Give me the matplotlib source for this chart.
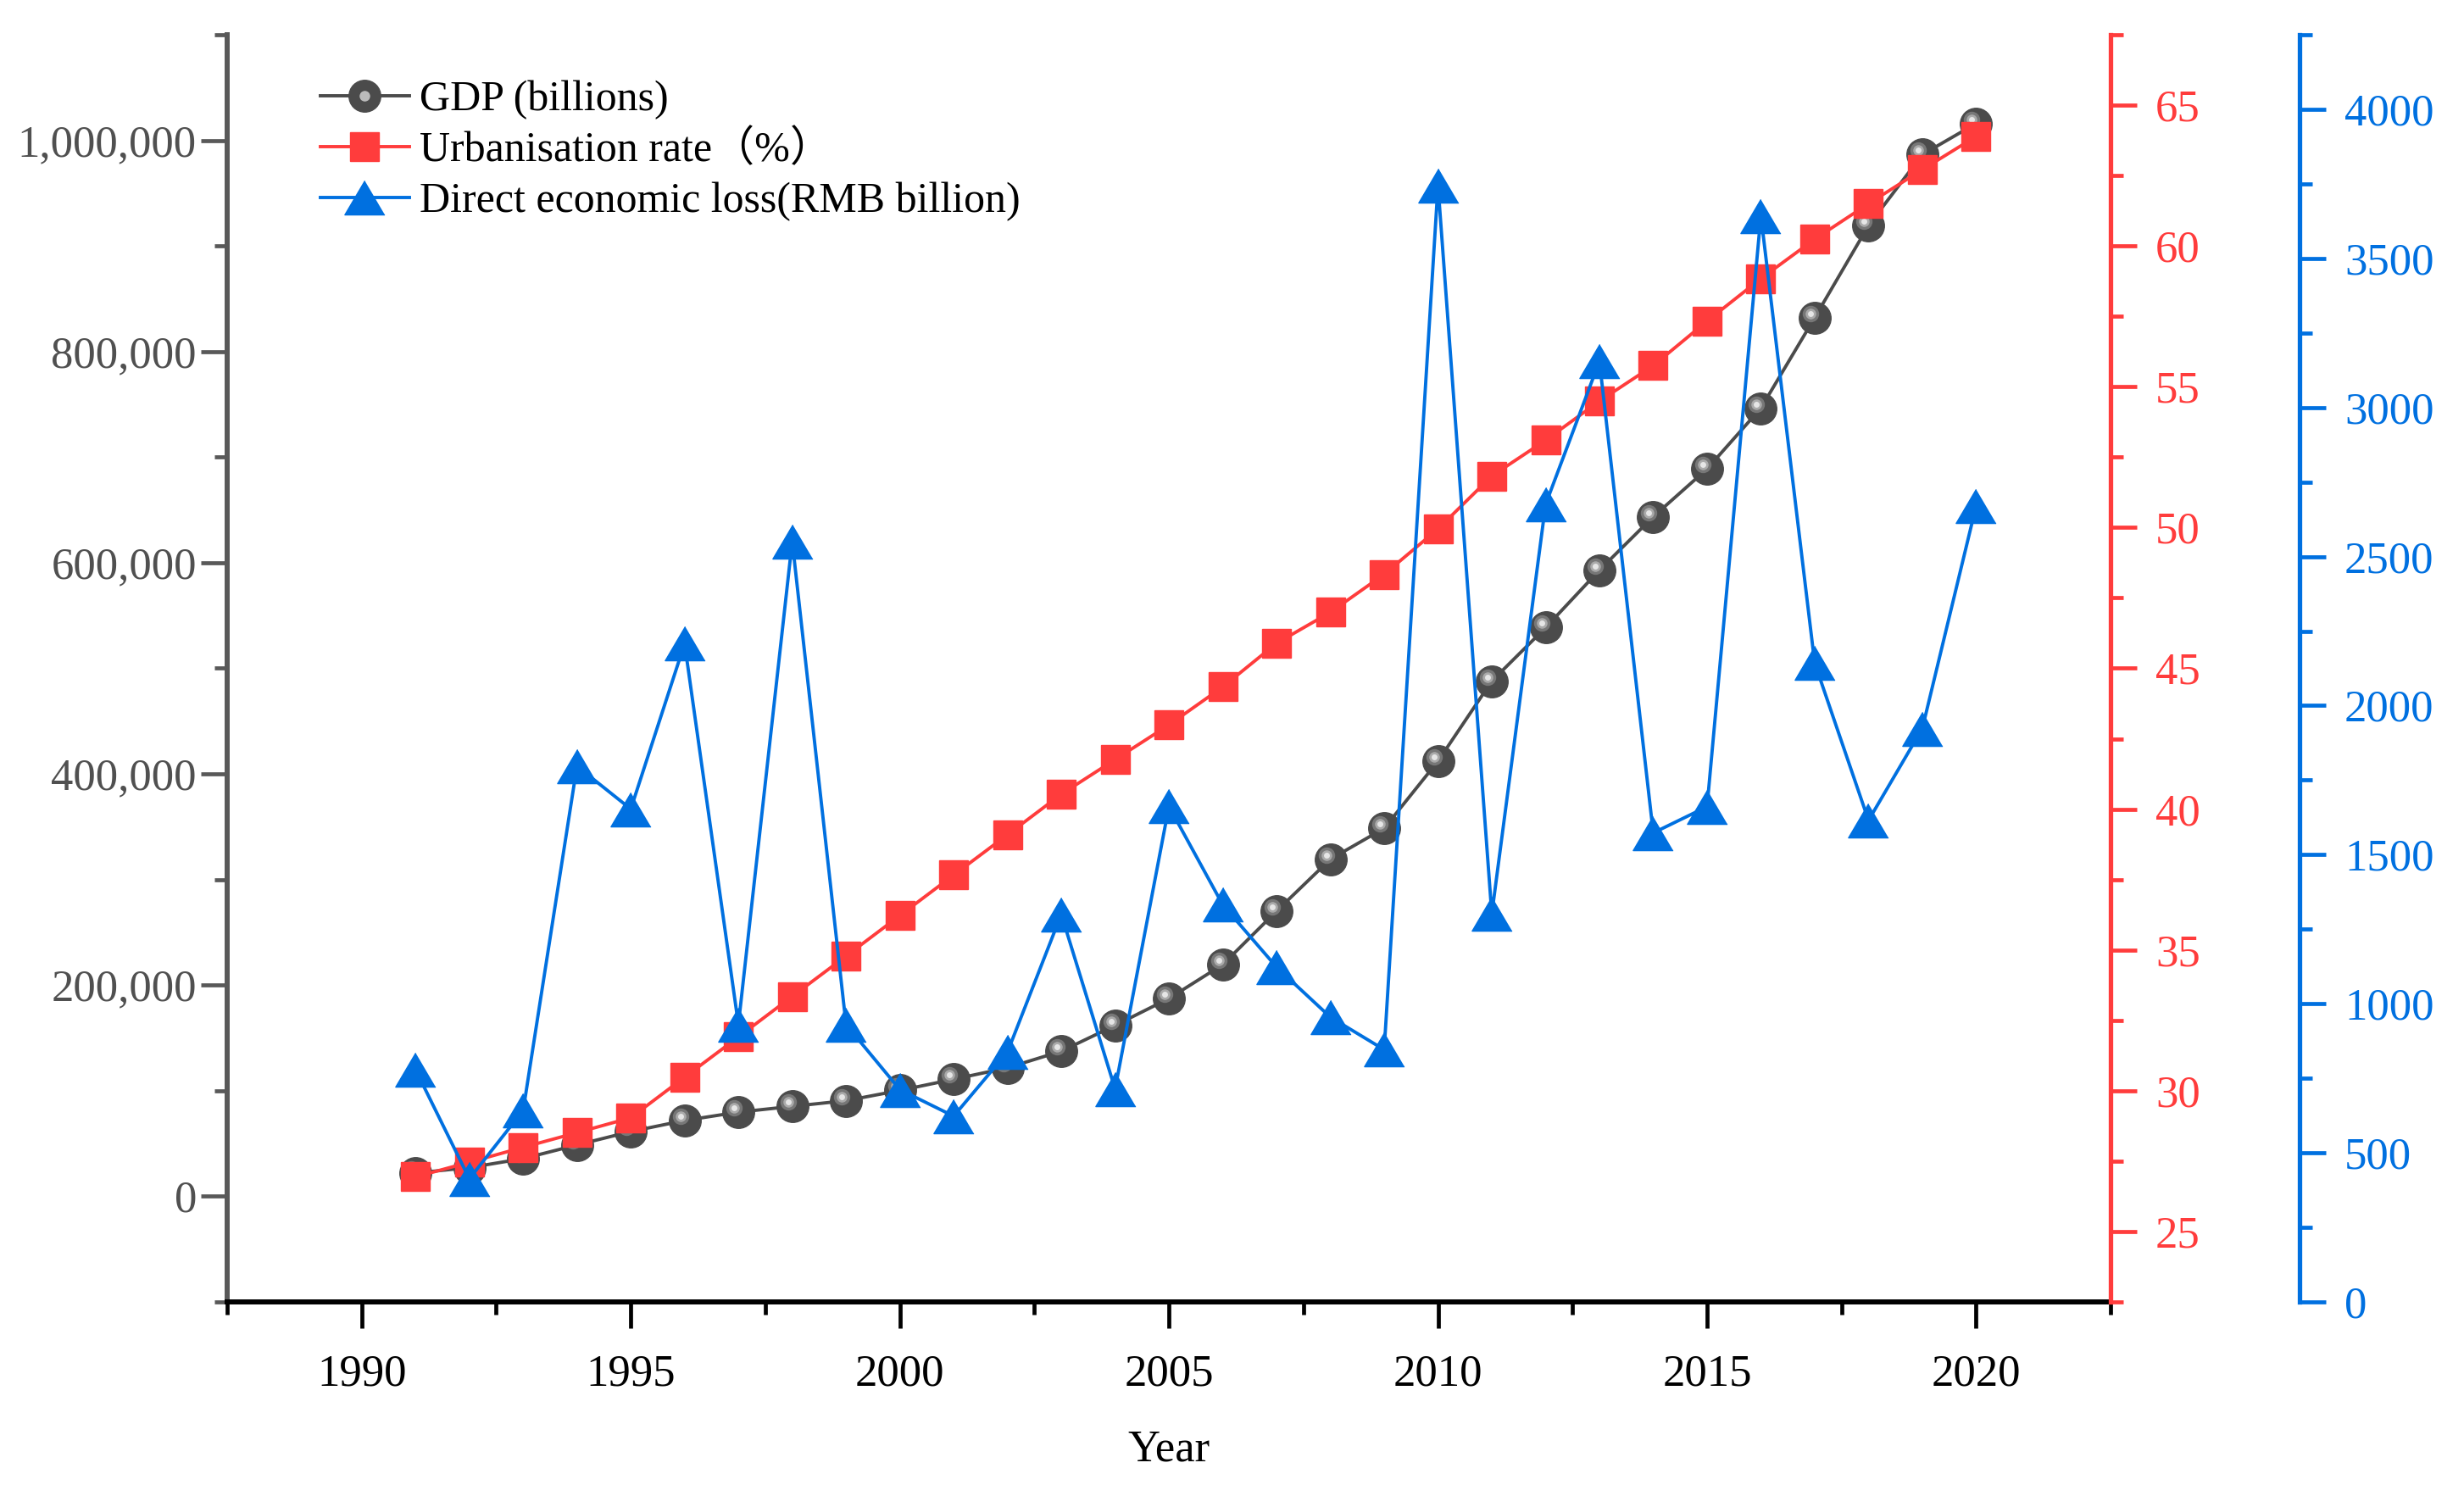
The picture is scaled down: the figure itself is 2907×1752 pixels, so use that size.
#encoding: utf-8

import matplotlib

matplotlib.use('Agg')
import matplotlib.pyplot as plt
import matplotlib.transforms as mtransforms
from matplotlib.ticker import MultipleLocator, FuncFormatter
from matplotlib.lines import Line2D

plt.rcParams['font.family'] = ['Liberation Serif', 'Noto Sans CJK SC']
plt.rcParams['font.size'] = 38

# data
years = list(range(1991, 2021))
gdp = [22006, 27195, 35673, 48638, 61340, 71814, 79715, 85196, 90564, 100280,
       110863, 121717, 137422, 161840, 187319, 219439, 270092, 319245, 348518, 412119,
       487940, 538580, 592963, 643563, 688858, 746395, 832036, 919281, 986515, 1015986]
urban = [26.94, 27.46, 27.99, 28.51, 29.04, 30.48, 31.91, 33.35, 34.78, 36.22,
         37.66, 39.09, 40.53, 41.76, 42.99, 44.34, 45.89, 46.99, 48.34, 49.95,
         51.83, 53.10, 54.49, 55.75, 57.33, 58.84, 60.24, 61.50, 62.71, 63.89]
loss = [779, 413, 642, 1797, 1653, 2208, 930, 2551, 930, 712,
        623, 838, 1300, 714, 1662, 1332, 1123, 955, 846, 3745,
        1301, 2675, 3155, 1573, 1661, 3643, 2143, 1615, 1923, 2670]

GRAY = '#4b4b4b'
RED = '#ff3c3c'
BLUE = '#0070e0'

fig = plt.figure(figsize=(29.07, 17.52), dpi=100, facecolor='w')
ax1 = fig.add_axes([0.0922, 0.1233, 0.8566 - 0.0922, 0.9766 - 0.1233])
ax2 = ax1.twinx()
ax3 = ax1.twinx()

# GDP - dark balls with a small highlight
ax1.plot(years, gdp, color=GRAY, lw=2.8, marker='o', ms=27, mfc=GRAY, mec=GRAY)
shift = ax1.transData + mtransforms.ScaledTranslation(-0.05, 0.05, fig.dpi_scale_trans)
for ms, c in [(14, '#777777'), (9, '#aaaaaa'), (5, '#e6e6e6')]:
    ax1.plot(years, gdp, ls='none', marker='o', ms=ms, mfc=c, mec='none', transform=shift)

line2, = ax2.plot(years, urban, color=RED, lw=2.8, marker='s', ms=25, mfc=RED, mec=RED)
tri = [(0, 0.85), (-1, -0.85), (1, -0.85)]
line3, = ax3.plot(years, loss, color=BLUE, lw=2.8, marker=tri, ms=34, mfc=BLUE, mec=BLUE)

ax1.set_xlim(1987.5, 2022.5)
ax1.set_ylim(-100000, 1100000)
ax2.set_ylim(22.5, 67.5)
ax3.set_ylim(0, 4250)

ax1.xaxis.set_major_locator(MultipleLocator(5))
ax1.xaxis.set_minor_locator(MultipleLocator(2.5))
ax1.yaxis.set_major_locator(MultipleLocator(200000))
ax1.yaxis.set_minor_locator(MultipleLocator(100000))
ax1.yaxis.set_major_formatter(FuncFormatter(lambda v, p: f'{int(v):,}'))
ax2.yaxis.set_major_locator(MultipleLocator(5))
ax2.yaxis.set_minor_locator(MultipleLocator(2.5))
ax3.yaxis.set_major_locator(MultipleLocator(500))
ax3.yaxis.set_minor_locator(MultipleLocator(250))

for ax in (ax1, ax2, ax3):
    ax.spines['top'].set_visible(False)
ax1.spines['right'].set_visible(False)
ax2.spines['left'].set_visible(False)
ax3.spines['left'].set_visible(False)
ax2.spines['bottom'].set_visible(False)
ax3.spines['bottom'].set_visible(False)

ax1.spines['left'].set_color('#595959')
ax1.spines['left'].set_linewidth(4.3)
ax1.spines['bottom'].set_color('black')
ax1.spines['bottom'].set_linewidth(4.3)
ax2.spines['right'].set_color(RED)
ax2.spines['right'].set_linewidth(3.8)
ax3.spines['right'].set_position(('axes', 1.1004))
ax3.spines['right'].set_color(BLUE)
ax3.spines['right'].set_linewidth(3.8)

ax1.tick_params(axis='x', which='major', direction='out', length=22, width=3.4,
                color='black', labelcolor='black', pad=22)
ax1.tick_params(axis='x', which='minor', direction='out', length=11, width=3.4, color='black')
ax1.tick_params(axis='y', which='major', direction='out', length=22, width=3.4,
                color='#595959', labelcolor='#505050', pad=4)
ax1.tick_params(axis='y', which='minor', direction='out', length=11, width=3.4, color='#595959')
ax2.tick_params(axis='y', which='major', direction='out', length=22, width=3.4,
                color=RED, labelcolor=RED, pad=16)
ax2.tick_params(axis='y', which='minor', direction='out', length=11, width=3.4, color=RED)
ax3.tick_params(axis='y', which='major', direction='out', length=22, width=3.4,
                color=BLUE, labelcolor=BLUE, pad=16)
ax3.tick_params(axis='y', which='minor', direction='out', length=11, width=3.4, color=BLUE)

ax1.set_xlabel('Year', fontsize=38, labelpad=30)

# legend: the ball handle is the dark marker with a light dot on top
h1 = (Line2D([], [], color=GRAY, lw=2.8, marker='o', ms=27, mfc=GRAY, mec=GRAY),
      Line2D([], [], ls='none', marker='o', ms=9, mfc='#bbbbbb', mec='none'))
ax3.legend([h1, line2, line3],
           ['GDP (billions)', 'Urbanisation rate\uff08%\uff09', 'Direct economic loss(RMB billion)'],
           loc='upper left', bbox_to_anchor=(0.130, 0.946), bbox_transform=fig.transFigure,
           frameon=False, fontsize=36, borderpad=0, borderaxespad=0,
           handlelength=2.1, handletextpad=0.25, labelspacing=0.26)

fig.savefig('out.png', dpi=100)
